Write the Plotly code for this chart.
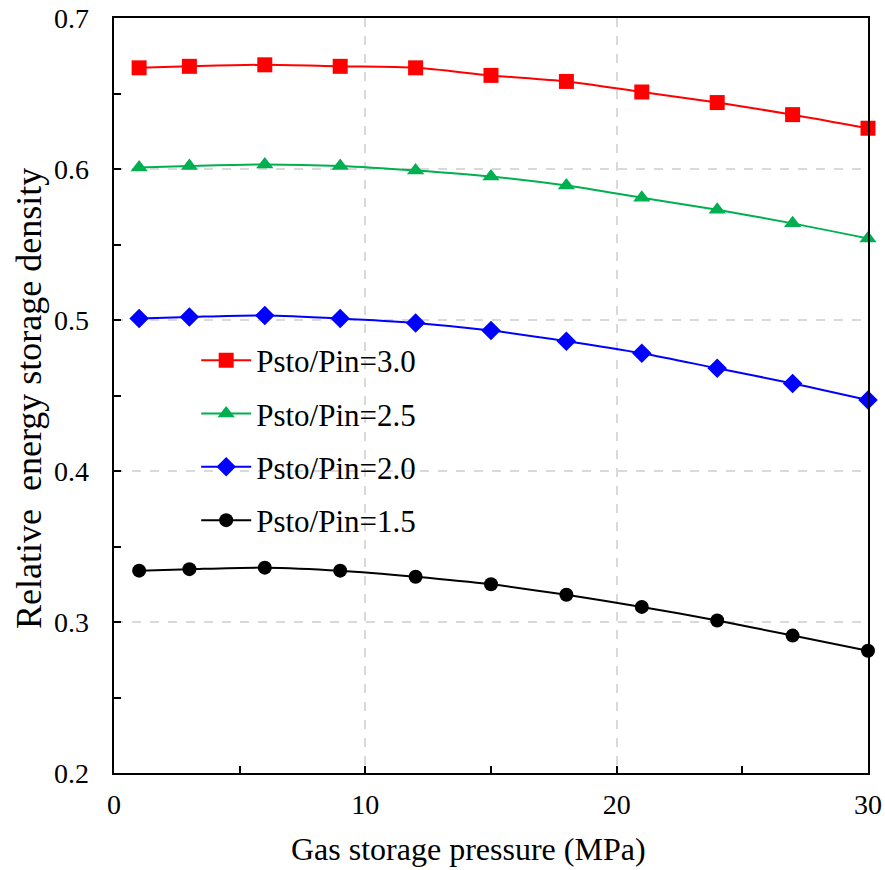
import plotly.graph_objects as go

pressure = [1, 3, 6, 9, 12, 15, 18, 21, 24, 27, 30]
ratio_30 = [0.667, 0.668, 0.669, 0.668, 0.667, 0.662, 0.658, 0.651, 0.644, 0.636, 0.627]
ratio_25 = [0.601, 0.602, 0.603, 0.602, 0.599, 0.595, 0.589, 0.581, 0.573, 0.564, 0.554]
ratio_20 = [0.501, 0.502, 0.503, 0.501, 0.498, 0.493, 0.486, 0.478, 0.468, 0.458, 0.447]
ratio_15 = [0.334, 0.335, 0.336, 0.334, 0.330, 0.325, 0.318, 0.310, 0.301, 0.291, 0.281]
y_ticks = [0.2, 0.3, 0.4, 0.5, 0.6, 0.7]
y_labels = ["0.2", "0.3", "0.4", "0.5", "0.6", "0.7"]
x_ticks = [0, 10, 20, 30]

series = [
    ("Psto/Pin=3.0", ratio_30, "#ff0000", "square", 15),
    ("Psto/Pin=2.5", ratio_25, "#00b050", "triangle-up", 15),
    ("Psto/Pin=2.0", ratio_20, "#0000ff", "diamond", 15),
    ("Psto/Pin=1.5", ratio_15, "#000000", "circle", 14),
]

FONT = "Liberation Serif, Times New Roman, serif"

fig = go.Figure()
for i, (name, vals, color, sym, size) in enumerate(series):
    fig.add_trace(go.Scatter(
        x=pressure, y=vals, name=name, mode="lines+markers",
        line=dict(color=color, width=2, shape="spline", smoothing=0.8),
        marker=dict(symbol=sym, size=size, color=color),
        legendgroup=f"g{i}", cliponaxis=False,
    ))

axis_common = dict(
    showline=True, linecolor="black", linewidth=2, mirror=True,
    ticks="inside", ticklen=7, tickwidth=1.5, tickcolor="black",
    showgrid=True, gridcolor="#d9d9d9", griddash="dash", gridwidth=1.5,
    zeroline=False, tickfont=dict(family=FONT, size=28, color="black"),
    ticklabeloverflow="allow", automargin=False,
)

# y tick labels drawn as annotations anchored to the y axis scale, set back from the axis line
ytick_annotations = [
    dict(text=lab, xref="paper", yref="y", x=-0.031, y=val, xanchor="right", yanchor="middle",
         showarrow=False, font=dict(family=FONT, size=28, color="black"))
    for val, lab in zip(y_ticks, y_labels)
]

fig.update_layout(
    width=885, height=870,
    margin=dict(l=114, r=17, t=18, b=97, autoexpand=False),
    plot_bgcolor="white", paper_bgcolor="white",
    font=dict(family=FONT, size=28, color="black"),
    showlegend=True,
    legend=dict(
        x=0.109, y=0.582, xanchor="left", yanchor="top",
        font=dict(family=FONT, size=31, color="black"),
        bgcolor="rgba(0,0,0,0)", tracegroupgap=10,
        itemwidth=50,
    ),
    xaxis=dict(
        range=[0, 30], tickvals=x_ticks,
        minor=dict(tickvals=[5, 15, 25], ticks="inside", ticklen=7, tickcolor="black", showgrid=False),
        ticklabelstandoff=5,
        **axis_common,
    ),
    yaxis=dict(
        range=[0.2, 0.7], tickvals=y_ticks, showticklabels=False,
        minor=dict(tickvals=[0.25, 0.35, 0.45, 0.55, 0.65], ticks="inside", ticklen=7, tickcolor="black", showgrid=False),
        **axis_common,
    ),
    annotations=[
        dict(
            text="Gas storage pressure (MPa)", xref="paper", yref="paper",
            x=0.470, y=-0.100, xanchor="center", yanchor="middle", showarrow=False,
            font=dict(family=FONT, size=32, color="black"),
        ),
        dict(
            text="Relative  energy storage density", xref="paper", yref="paper",
            x=-0.1127, y=0.4954, xanchor="center", yanchor="middle", showarrow=False,
            textangle=-90, font=dict(family=FONT, size=36, color="black"),
        ),
    ] + ytick_annotations,
)

fig.write_html("out.html")
